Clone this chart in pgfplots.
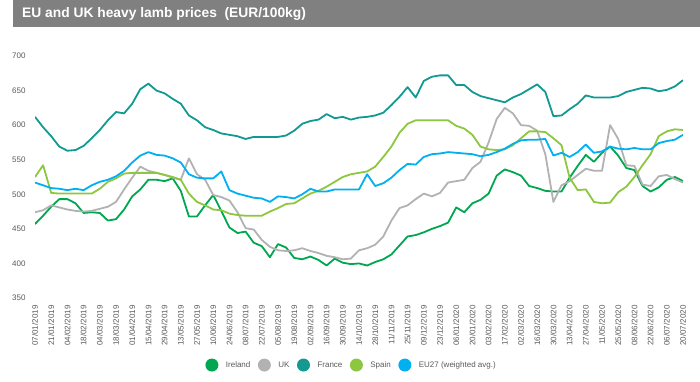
\documentclass[border=0pt]{standalone}
\usepackage{pgfplots}
\pgfplotsset{compat=1.18}
\usepackage{pgfplotstable}
\usepackage{fontspec}
\setmainfont{Liberation Sans}
\definecolor{cIre}{RGB}{0,166,80}
\definecolor{cUK}{RGB}{178,178,178}
\definecolor{cFra}{RGB}{17,153,146}
\definecolor{cSpa}{RGB}{141,198,63}
\definecolor{cEU}{RGB}{0,176,240}
\definecolor{banner}{RGB}{128,128,128}
\definecolor{txt}{RGB}{89,89,89}
\pgfplotstableread{
i Ire UK Fra Spa EU
0 457 474 612 525 517
1 469 477 597 542 513
2 482 484 584 502 509
3 493 481 569 501 508
4 493 478 563 501 506
5 487 476 564 501 508
6 473 475 570 501 506
7 474 476 581 501 513
8 473 479 593 508 518
9 462 482 607 518 521
10 464 489 619 523 526
11 478 507 617 530 534
12 497 524 631 531 546
13 507 540 652 531 556
14 521 534 660 531 561
15 521 531 650 531 557
16 519 528 646 528 556
17 523 524 638 525 552
18 505 521 631 521 546
19 468 552 614 501 529
20 468 529 607 489 524
21 484 521 597 484 523
22 499 499 593 478 523
23 476 496 588 477 533
24 452 491 586 472 506
25 444 474 584 470 501
26 446 451 580 469 498
27 430 449 583 469 495
28 425 434 583 469 494
29 409 424 583 475 489
30 428 419 583 480 497
31 423 418 585 486 496
32 408 419 592 487 494
33 406 422 602 494 500
34 410 418 606 501 508
35 405 415 608 505 504
36 397 411 616 511 504
37 407 409 610 518 507
38 401 406 612 525 507
39 399 407 608 529 507
40 400 419 611 531 507
41 397 422 612 533 529
42 402 427 614 540 512
43 406 439 618 554 516
44 413 462 629 569 524
45 426 480 641 589 535
46 439 484 655 602 544
47 441 493 640 607 543
48 445 501 664 607 554
49 450 497 670 607 558
50 454 502 672 607 559
51 459 517 672 607 561
52 481 519 658 599 560
53 474 521 658 595 559
54 487 538 648 586 558
55 492 547 642 569 555
56 501 575 639 565 557
57 527 609 636 564 561
58 536 625 633 565 566
59 532 617 640 571 573
60 527 600 645 581 578
61 512 599 652 591 579
62 509 592 659 591 579
63 505 558 648 590 580
64 504 489 613 581 556
65 504 513 614 571 560
66 524 519 623 524 554
67 541 528 631 506 561
68 557 537 643 507 572
69 547 534 640 489 560
70 560 534 640 487 562
71 569 600 640 488 569
72 556 580 642 503 566
73 538 542 648 511 565
74 535 541 651 525 567
75 512 514 654 542 565
76 504 512 653 558 565
77 510 526 649 584 574
78 521 528 651 591 577
79 525 522 656 594 579
80 519 517 665 593 586
}\datatable
\begin{document}
\begin{tikzpicture}[x=1pt,y=1pt]
\fill[banner] (13,354) rectangle (700,381);
\node[anchor=west, text=white, font=\fontsize{13.8}{16}\selectfont\bfseries, inner sep=0pt] at (22,367.5) {EU and UK heavy lamb prices\ \ (EUR/100kg)};
\begin{axis}[
  at={(35pt,83pt)}, anchor=south west,
  scale only axis, width=648pt, height=242pt,
  xmin=0, xmax=80, ymin=350, ymax=700,
  axis line style={draw=none}, tick style={draw=none},
  ytick={350,400,...,700},
  xtick={0,2,...,80},
  xticklabels={07/01/2019,21/01/2019,04/02/2019,18/02/2019,04/03/2019,18/03/2019,01/04/2019,15/04/2019,29/04/2019,13/05/2019,27/05/2019,10/06/2019,24/06/2019,08/07/2019,22/07/2019,05/08/2019,19/08/2019,02/09/2019,16/09/2019,30/09/2019,14/10/2019,28/10/2019,11/11/2019,25/11/2019,09/12/2019,23/12/2019,06/01/2020,20/01/2020,03/02/2020,17/02/2020,02/03/2020,16/03/2020,30/03/2020,13/04/2020,27/04/2020,11/05/2020,25/05/2020,08/06/2020,22/06/2020,06/07/2020,20/07/2020},
  /pgf/number format/assume math mode=true,
  ticklabel style={font=\fontsize{8}{9}\selectfont, text=txt},
  xticklabel style={rotate=90, anchor=east},
  xticklabel shift=4pt,
  yticklabel shift=6pt,
  every axis plot/.append style={line width=1.8pt, no markers, line join=round},
  legend columns=5,
  legend style={draw=none, fill=none, at={(axis description cs:0.263,-0.277)}, anchor=west,
    inner sep=0pt, outer sep=0pt, font=\fontsize{8}{9.6}\selectfont, text=txt,
    nodes={inner xsep=0pt, inner ysep=1pt},
    /tikz/every odd column/.append style={column sep=7.5pt},
    /tikz/every even column/.append style={column sep=7.5pt}},
  legend image code/.code={\fill[#1,draw=none] (0pt,0pt) circle (6.5pt);},
]
\addplot[color=cIre] table[x=i,y=Ire] {\datatable};
\addlegendentry{Ireland}
\addplot[color=cUK] table[x=i,y=UK] {\datatable};
\addlegendentry{UK}
\addplot[color=cFra] table[x=i,y=Fra] {\datatable};
\addlegendentry{France}
\addplot[color=cSpa] table[x=i,y=Spa] {\datatable};
\addlegendentry{Spain}
\addplot[color=cEU] table[x=i,y=EU] {\datatable};
\addlegendentry{EU27 (weighted avg.)}
\end{axis}
\pgfresetboundingbox
\path[use as bounding box] (0,0) rectangle (700,381);
\end{tikzpicture}
\end{document}
